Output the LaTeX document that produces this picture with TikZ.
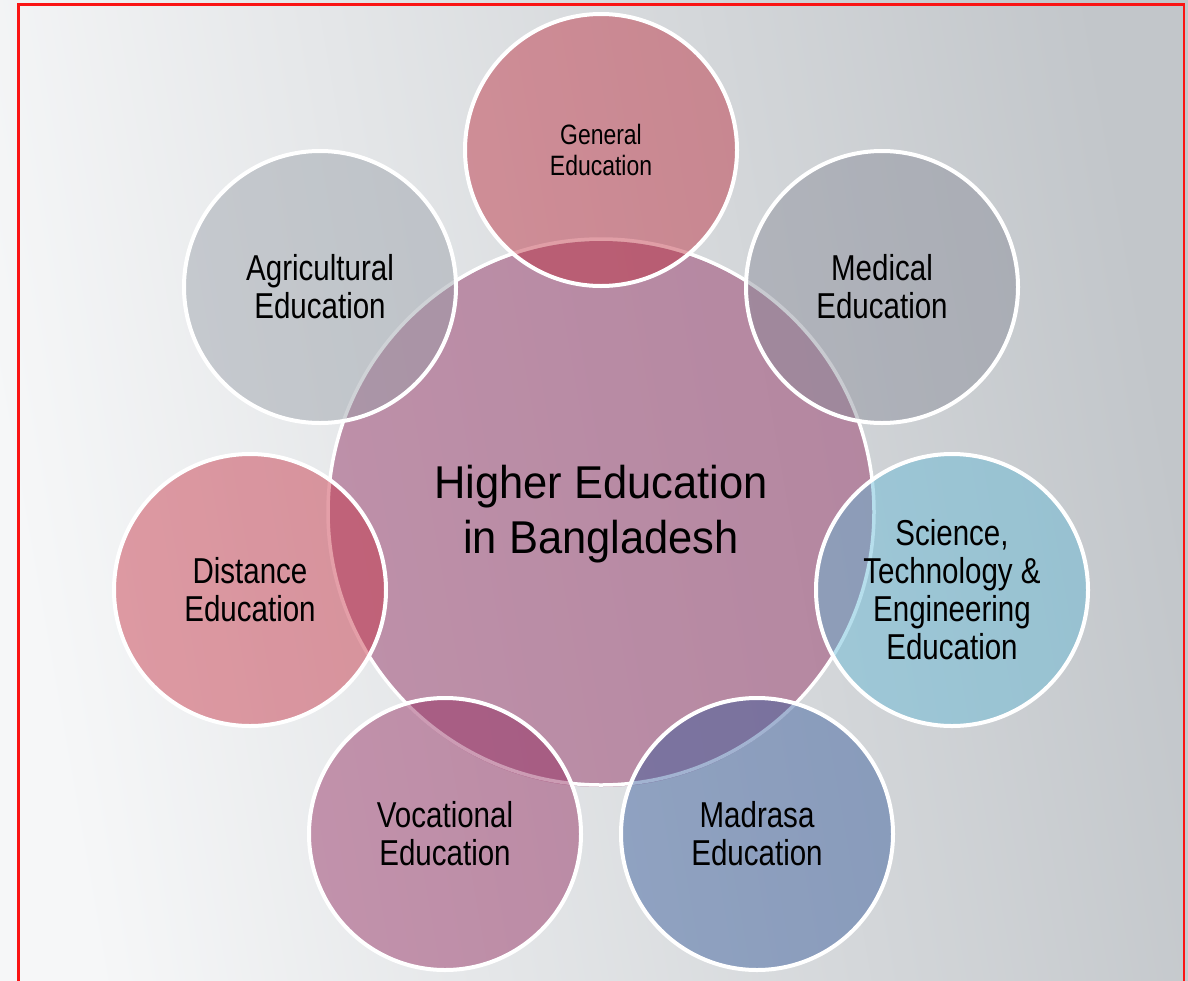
\documentclass[tikz,border=0pt]{standalone}
\usepackage{fontspec}
\setmainfont{Liberation Sans}
\newfontfamily\outerfont[FakeStretch=0.82]{Liberation Sans}
\newfontfamily\centerfont[FakeStretch=0.945]{Liberation Sans}
\definecolor{bgL}{RGB}{246,247,248}
\definecolor{bgR}{RGB}{194,198,202}
\definecolor{cCenter}{RGB}{162,85,125}
\definecolor{cGeneral}{RGB}{187,40,58}
\definecolor{cMedical}{RGB}{135,138,151}
\definecolor{cAgri}{RGB}{150,157,166}
\definecolor{cScience}{RGB}{95,183,213}
\definecolor{cMadrasa}{RGB}{50,87,153}
\definecolor{cVoc}{RGB}{144,36,90}
\definecolor{cDist}{RGB}{196,44,63}
\definecolor{frameRed}{RGB}{250,20,20}
\tikzset{
  bubble/.style={circle, inner sep=0pt, outer sep=0pt, minimum size=272pt, align=center, text=black,
    fill opacity=0.45, text opacity=1,
    font=\outerfont\fontsize{36}{38}\selectfont},
  hub/.style={circle, inner sep=0pt, outer sep=0pt, minimum size=546pt, align=center, text=black,
    fill opacity=0.6, text opacity=1,
    font=\centerfont\fontsize{46}{55}\selectfont},
  ring/.style={draw=white, line width=4pt},
}
\begin{document}
\begin{tikzpicture}[x=1pt,y=-1pt]
\useasboundingbox (0,0) rectangle (1188,980);
\shade[left color=bgL, right color=bgR, shading angle=100] (0,0) rectangle (1188,980);
\draw[frameRed, line width=2.5pt] (18.5,4.5) rectangle (1184,1010);
% centre
\node[hub, fill=cCenter] (hub) at (601,514) {Higher Education\\in Bangladesh};
\draw[ring, line width=3.5pt] (601,512) circle[radius=273pt];
% outer bubbles
\node[bubble, fill=cGeneral, font=\outerfont\fontsize{28}{31}\selectfont] (gen) at (601,150) {General\\Education};
\draw[ring] (gen.center) circle[radius=136pt];
\node[bubble, fill=cMedical] (med) at (882,287) {Medical\\Education};
\draw[ring] (med.center) circle[radius=136pt];
\node[bubble, fill=cScience] (sci) at (952,590) {Science,\\Technology \&\\Engineering\\Education};
\draw[ring] (sci.center) circle[radius=136pt];
\node[bubble, fill=cMadrasa] (mad) at (757,834) {Madrasa\\Education};
\draw[ring] (mad.center) circle[radius=136pt];
\node[bubble, fill=cVoc] (voc) at (445,834) {Vocational\\Education};
\draw[ring] (voc.center) circle[radius=136pt];
\node[bubble, fill=cDist] (dist) at (250,590) {Distance\\Education};
\draw[ring] (dist.center) circle[radius=136pt];
\node[bubble, fill=cAgri] (agri) at (320,287) {Agricultural\\Education};
\draw[ring] (agri.center) circle[radius=136pt];
\end{tikzpicture}
\end{document}
